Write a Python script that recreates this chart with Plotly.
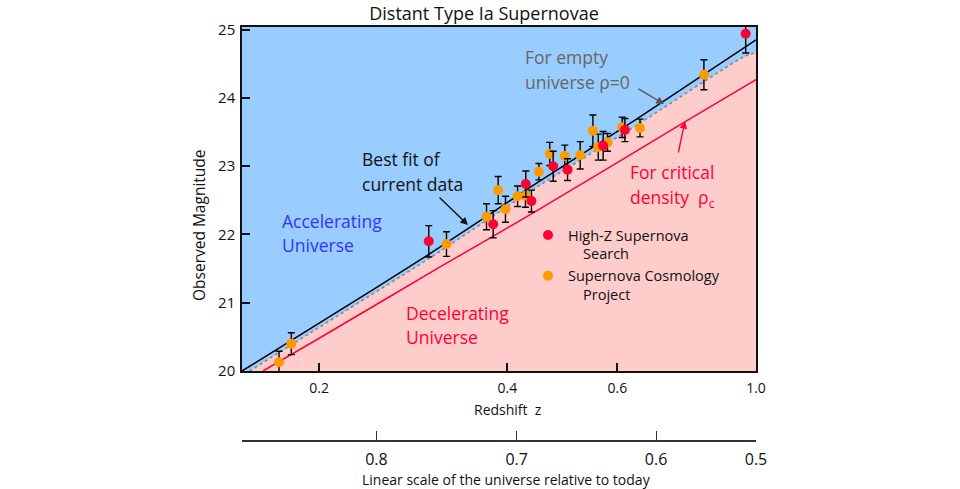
import plotly.graph_objects as go
import math

# ---------------- data ----------------
chart_title = "Distant Type Ia Supernovae"

# High-Z Supernova Search (red points)
hz_z = [0.2995, 0.3797, 0.4282, 0.4372, 0.4736, 0.4994, 0.5694, 0.6169, 0.9627]
hz_m = [21.90, 22.15, 22.74, 22.49, 23.00, 22.95, 23.30, 23.53, 24.94]
hz_err = [0.23, 0.20, 0.19, 0.16, 0.22, 0.16, 0.21, 0.17, 0.28]

# Supernova Cosmology Project (orange points)
scp_z = [0.1725, 0.1805, 0.3197, 0.3705, 0.3868, 0.3973, 0.4154, 0.4277, 0.4494,
         0.4677, 0.4944, 0.5232, 0.5483, 0.5592, 0.5787, 0.6108, 0.6522, 0.8254]
scp_m = [20.13, 20.40, 21.86, 22.26, 22.65, 22.37, 22.56, 22.57, 22.92,
         23.18, 23.15, 23.16, 23.52, 23.28, 23.35, 23.57, 23.56, 24.34]
scp_err = [0.16, 0.16, 0.18, 0.19, 0.20, 0.19, 0.15, 0.17, 0.12,
           0.17, 0.16, 0.20, 0.23, 0.19, 0.13, 0.15, 0.13, 0.22]

# Best fit of current data (black line)
fit_z = [0.1505, 0.2, 0.2987, 0.4398, 0.644, 1.0]
fit_m = [20.00, 20.70, 21.70, 22.72, 23.69, 24.85]

# Empty universe rho = 0 (grey dotted line, boundary of the pink region)
empty_z = [0.1547, 0.2, 0.3, 0.44, 0.644, 0.954, 1.0]
empty_m = [20.00, 20.64, 21.65, 22.66, 23.60, 24.60, 24.67]

# Critical density (red line)
crit_z = [0.1626, 0.2, 0.3157, 0.4427, 0.779, 1.0]
crit_m = [20.00, 20.48, 21.55, 22.33, 23.68, 24.27]

# Axis ticks
z_ticks = [0.2, 0.4, 0.6, 1.0]
z_ticktext = ["0.2", "0.4", "0.6", "1.0"]
m_ticks = [20, 21, 22, 23, 24, 25]
scale_tick_z = [0.247, 0.414, 0.692, 1.0]
scale_ticktext = ["0.8", "0.7", "0.6", "0.5"]

z_min, z_max = 0.1505, 1.0
m_min, m_max = 20.0, 25.04

# ---------------- layout helpers ----------------
W, H = 960, 489
L, R, T, B = 242, 756, 27, 440      # full plotting region in pixels
PLOT_BOTTOM = 371                    # bottom of the main panel


def px(x):
    return (x - L) / (R - L)


def py(y):
    return (B - y) / (B - T)


FONT = "Open Sans"
BLUE_BG = "#99CCFF"
PINK = "#FFCCCC"
RED = "#FF0033"
ORANGE = "#FF9900"

fig = go.Figure()

# pink region below the empty-universe curve (dotted line on its edge)
fig.add_trace(go.Scatter(
    x=empty_z, y=empty_m, mode="lines",
    line=dict(color="#888888", width=1.6, dash="dot", shape="spline", smoothing=0.6),
    fill="tozeroy", fillcolor=PINK, showlegend=False, hoverinfo="skip"))

fig.add_trace(go.Scatter(
    x=fit_z, y=fit_m, mode="lines",
    line=dict(color="black", width=1.5, shape="spline", smoothing=0.6),
    showlegend=False, hoverinfo="skip"))

fig.add_trace(go.Scatter(
    x=crit_z, y=crit_m, mode="lines",
    line=dict(color=RED, width=1.5, shape="spline", smoothing=0.6),
    showlegend=False, hoverinfo="skip"))

err_style = dict(type="data", visible=True, color="black", thickness=1.4, width=3.5)

fig.add_trace(go.Scatter(
    x=scp_z, y=scp_m, mode="markers",
    name="Supernova Cosmology<br>\u00a0\u00a0\u00a0\u00a0Project",
    marker=dict(color=ORANGE, size=10),
    error_y=dict(array=scp_err, **err_style), legendrank=2))

fig.add_trace(go.Scatter(
    x=hz_z, y=hz_m, mode="markers",
    name="High-Z Supernova<br>\u00a0\u00a0\u00a0\u00a0Search",
    marker=dict(color=RED, size=10),
    error_y=dict(array=hz_err, **err_style), legendrank=1))

# dummy trace to create the lower (scale factor) axis
fig.add_trace(go.Scatter(
    x=[0.5], y=[0.5], xaxis="x2", yaxis="y2", mode="markers",
    marker=dict(opacity=0), showlegend=False, hoverinfo="skip"))

# blue background of the main panel
fig.add_shape(type="rect", xref="x domain", yref="y domain", x0=0, x1=1, y0=0, y1=1,
              fillcolor=BLUE_BG, line=dict(width=0), layer="below")

main_dom = [py(PLOT_BOTTOM), 1.0]

fig.update_layout(
    width=W, height=H,
    margin=dict(l=L, r=W - R, t=T, b=H - B),
    paper_bgcolor="white", plot_bgcolor="rgba(0,0,0,0)",
    font=dict(family=FONT, color="#111111", size=14),
    title=dict(text=chart_title, x=484 / W, xanchor="center", y=1 - 13.5 / H, yanchor="middle",
               font=dict(size=18, color="#111111")),
    xaxis=dict(type="log", range=[math.log10(z_min), math.log10(z_max)],
               tickvals=z_ticks, ticktext=z_ticktext, ticks="inside", ticklen=8,
               tickwidth=1.5, tickcolor="#111111", showline=True, linecolor="#111111",
               linewidth=1.5, mirror=True, showgrid=False, zeroline=False,
               tickfont=dict(size=14), ticklabelstandoff=3, anchor="y"),
    yaxis=dict(range=[m_min, m_max], domain=main_dom, tickvals=m_ticks,
               ticks="inside", ticklen=8, tickwidth=1.5, tickcolor="#111111",
               showline=True, linecolor="#111111", linewidth=1.5, mirror=True,
               showgrid=False, zeroline=False, tickfont=dict(size=15), ticklabelstandoff=2),
    xaxis2=dict(type="log", range=[math.log10(z_min), math.log10(z_max)], anchor="y2",
                tickvals=scale_tick_z, ticktext=scale_ticktext, ticks="inside", ticklen=9,
                tickwidth=1.3, tickcolor="#333333", showline=True, linecolor="#333333",
                linewidth=1.5, showgrid=False, zeroline=False,
                tickfont=dict(size=16), ticklabelstandoff=4),
    yaxis2=dict(domain=[0, 0.002], range=[0, 1], visible=False, anchor="x2"),
    legend=dict(x=px(528), xanchor="left", y=py(219), yanchor="top", valign="top",
                bgcolor="rgba(0,0,0,0)", font=dict(size=14.5, color="#111111"),
                itemwidth=30, tracegroupgap=0),
    showlegend=True,
)


def label(text, x, y, color, size=17.5, xanchor="left", angle=0):
    fig.add_annotation(text=text, x=px(x), y=py(y), xref="paper", yref="paper",
                       showarrow=False, xanchor=xanchor, yanchor="middle",
                       font=dict(size=size, color=color, family=FONT), textangle=angle)


def arrow(x_head, y_head, x_tail, y_tail, color):
    fig.add_annotation(x=px(x_head), y=py(y_head), xref="paper", yref="paper",
                       ax=x_tail - x_head, ay=y_tail - y_head, text="",
                       showarrow=True, arrowhead=2, arrowsize=1.1, arrowwidth=1.4,
                       arrowcolor=color)


label("For empty", 523, 57, "#666666")
label("universe \u03c1=0", 523, 82, "#666666")
label("Best fit of", 360, 159, "#111111")
label("current data", 360, 184, "#111111")
label("Accelerating", 280, 221, "#3333FF")
label("Universe", 280, 245, "#3333FF")
label("Decelerating", 404, 313, RED)
label("Universe", 404, 337, RED)
label("For critical", 628, 172, RED)
label("density  \u03c1<sub>c</sub>", 628, 198, RED)

arrow(664, 104, 637, 88, "#555555")
arrow(468, 225, 438, 196, "#111111")
arrow(685, 121, 678, 154, RED)

# axis titles
label("Redshift  z", 508, 409, "#111111", size=14, xanchor="center")
label("Linear scale of the universe relative to today", 506, 480, "#111111", size=14,
      xanchor="center")
label("Observed Magnitude", 199, 225, "#111111", size=15.5, xanchor="center", angle=-90)

# the page's default 8px body margin would shift the whole figure; remove it
fig.write_html("out.html",
               config={"displayModeBar": False},
               post_script="document.body.style.margin='0px';"
                           "document.body.style.overflow='hidden';")
